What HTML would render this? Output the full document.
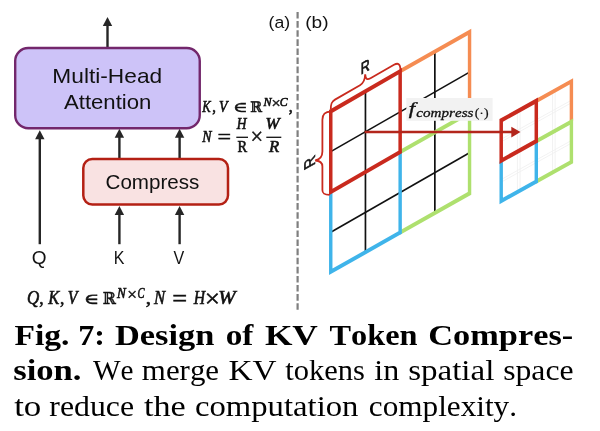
<!DOCTYPE html>
<html lang="en"><head><meta charset="utf-8"><title>Fig. 7: Design of KV Token Compression</title>
<style>
html,body{margin:0;padding:0;background:#fff;}
body{width:600px;height:431px;overflow:hidden;}
svg{display:block;will-change:transform;}
text{font-kerning:none;font-variant-ligatures:none;white-space:pre;}
.ls{font-family:"Liberation Sans",sans-serif;}
.lf{font-family:"Liberation Serif",serif;}
.df{font-family:"DejaVu Serif","Liberation Serif",serif;}
.ds{font-family:"DejaVu Sans","Liberation Sans",sans-serif;}
.b{font-weight:bold;}
.i{font-style:italic;}
</style></head><body>
<svg width="600" height="431" viewBox="0 0 600 431">
<rect x="0" y="0" width="600" height="431" fill="#ffffff"/>
<line x1="107.5" y1="23" x2="107.5" y2="48" stroke="#262626" stroke-width="2.4"/>
<polygon points="107.5,17 102.8,26 112.2,26" fill="#262626"/>
<line x1="39.8" y1="136.3" x2="39.8" y2="244.2" stroke="#262626" stroke-width="2.4"/>
<polygon points="39.8,130.3 35.1,139.3 44.5,139.3" fill="#262626"/>
<line x1="119.4" y1="134.8" x2="119.4" y2="159" stroke="#262626" stroke-width="2.4"/>
<polygon points="119.4,128.8 114.7,137.8 124.1,137.8" fill="#262626"/>
<line x1="179.6" y1="134.8" x2="179.6" y2="159" stroke="#262626" stroke-width="2.4"/>
<polygon points="179.6,128.8 174.9,137.8 184.3,137.8" fill="#262626"/>
<line x1="119.4" y1="212" x2="119.4" y2="244.2" stroke="#262626" stroke-width="2.4"/>
<polygon points="119.4,206 114.7,215 124.1,215" fill="#262626"/>
<line x1="179.6" y1="212" x2="179.6" y2="244.2" stroke="#262626" stroke-width="2.4"/>
<polygon points="179.6,206 174.9,215 184.3,215" fill="#262626"/>
<rect x="15.2" y="48.05" width="184.55" height="80.2" rx="13" ry="13" fill="#cdc3f8" stroke="#73276c" stroke-width="2.4"/>
<text class="ls" font-size="20.8" fill="#111" transform="translate(52.33,83) scale(1.0931,1)">Multi-Head</text>
<text class="ls" font-size="20.6" fill="#111" transform="translate(63.96,108.7) scale(1.0759,1)">Attention</text>
<rect x="83.3" y="158.9" width="144.7" height="45.7" rx="9" ry="9" fill="#f9e2e2" stroke="#b42014" stroke-width="2.5"/>
<text class="ls" font-size="20.8" fill="#111" transform="translate(105.55,189.4) scale(0.9906,1)">Compress</text>
<text class="ls" font-size="17.5" fill="#111" transform="translate(31.8,264.2) scale(1.0882,1)">Q</text>
<text class="ls" font-size="17.5" fill="#111" transform="translate(113.68,264.2) scale(0.9163,1)">K</text>
<text class="ls" font-size="17.5" fill="#111" transform="translate(173.53,264.2) scale(0.9203,1)">V</text>
<text class="ls" font-size="16.5" fill="#111" transform="translate(268.5,28) scale(1.0707,1)">(a)</text>
<text class="ls" font-size="16.5" fill="#111" transform="translate(305.21,28) scale(1.1590,1)">(b)</text>
<text class="lf i" font-size="16" fill="#111" stroke="#111" stroke-width="0.6" transform="translate(202.35,111.7) scale(0.7881,1)">K</text>
<text class="lf" font-size="16" fill="#111" stroke="#111" stroke-width="0.6" transform="translate(212.14,111.7) scale(0.9233,1)">,</text>
<text class="lf i" font-size="16" fill="#111" stroke="#111" stroke-width="0.6" transform="translate(218.97,111.7) scale(0.8686,1)">V</text>
<text class="df" font-size="14.2" fill="#111" stroke="#111" stroke-width="0.48" transform="translate(232.89,111.7) scale(1.4000,1)">∈</text>
<text class="df" font-size="14.4" fill="#111" stroke="#111" stroke-width="0.48" transform="translate(250.34,111.7) scale(0.9843,1)">ℝ</text>
<text class="lf i" font-size="11.9" fill="#111" stroke="#111" stroke-width="0.6" transform="translate(263.39,106.1) scale(1.0144,1)">N</text>
<text class="lf" font-size="15.47" fill="#111" stroke="#111" stroke-width="0.48" transform="translate(271.62,108.09) scale(1.0489,1)">×</text>
<text class="lf i" font-size="11.9" fill="#111" stroke="#111" stroke-width="0.6" transform="translate(279.85,106.1) scale(0.9885,1)">C</text>
<text class="lf" font-size="16" fill="#111" stroke="#111" stroke-width="0.6" transform="translate(288.69,111.7) scale(1.0072,1)">,</text>
<text class="lf i" font-size="16" fill="#111" stroke="#111" stroke-width="0.6" transform="translate(202.3,141.7) scale(0.8672,1)">N</text>
<text class="lf" font-size="22" fill="#111" stroke="#111" stroke-width="0.48" transform="translate(217.6,143.65) scale(1.0940,1)">=</text>
<text class="lf i" font-size="16" fill="#111" stroke="#111" stroke-width="0.6" transform="translate(236.85,128.8) scale(0.8437,1)">H</text>
<line x1="236.3" y1="137.3" x2="248" y2="137.3" stroke="#111" stroke-width="1.3"/>
<text class="lf" font-size="16" fill="#111" stroke="#111" stroke-width="0.6" transform="translate(237.58,152.3) scale(0.9031,1)">R</text>
<text class="lf" font-size="22.1" fill="#111" stroke="#111" stroke-width="0.48" transform="translate(250.43,144.35) scale(1.0123,1)">×</text>
<text class="lf i" font-size="16" fill="#111" stroke="#111" stroke-width="0.6" transform="translate(265.58,128.8) scale(1.0605,1)">W</text>
<line x1="266.3" y1="137.3" x2="281.3" y2="137.3" stroke="#111" stroke-width="1.3"/>
<text class="lf i" font-size="16" fill="#111" stroke="#111" stroke-width="0.6" transform="translate(268.89,152.3) scale(1.0423,1)">R</text>
<text class="lf i" font-size="18.4" fill="#111" stroke="#111" stroke-width="0.6" transform="translate(27.06,304) scale(0.9219,1)">Q</text>
<text class="lf" font-size="18.4" fill="#111" stroke="#111" stroke-width="0.6" transform="translate(39.14,304) scale(0.9488,1)">,</text>
<text class="lf i" font-size="18.4" fill="#111" stroke="#111" stroke-width="0.6" transform="translate(48.19,304) scale(0.9037,1)">K</text>
<text class="lf" font-size="18.4" fill="#111" stroke="#111" stroke-width="0.6" transform="translate(60.04,304) scale(0.9488,1)">,</text>
<text class="lf i" font-size="18.4" fill="#111" stroke="#111" stroke-width="0.6" transform="translate(67.77,304) scale(0.8632,1)">V</text>
<text class="df" font-size="15.31" fill="#111" stroke="#111" stroke-width="0.48" transform="translate(83.39,304) scale(1.3598,1)">∈</text>
<text class="df" font-size="16.46" fill="#111" stroke="#111" stroke-width="0.48" transform="translate(102.76,304) scale(0.9612,1)">ℝ</text>
<text class="lf i" font-size="13.7" fill="#111" stroke="#111" stroke-width="0.6" transform="translate(117.1,297.5) scale(0.9622,1)">N</text>
<text class="lf" font-size="16.45" fill="#111" stroke="#111" stroke-width="0.48" transform="translate(127.14,299.62) scale(1.0460,1)">×</text>
<text class="lf i" font-size="13.7" fill="#111" stroke="#111" stroke-width="0.6" transform="translate(137.42,297.5) scale(0.7645,1)">C</text>
<text class="lf" font-size="18.4" fill="#111" stroke="#111" stroke-width="0.6" transform="translate(145.71,304) scale(1.1313,1)">,</text>
<text class="lf i" font-size="18.4" fill="#111" stroke="#111" stroke-width="0.6" transform="translate(154.12,304) scale(0.9049,1)">N</text>
<text class="lf" font-size="25.2" fill="#111" stroke="#111" stroke-width="0.48" transform="translate(172.18,307.02) scale(1.0489,1)">=</text>
<text class="lf i" font-size="18.4" fill="#111" stroke="#111" stroke-width="0.6" transform="translate(193.67,304) scale(0.8524,1)">H</text>
<text class="lf" font-size="24.8" fill="#111" stroke="#111" stroke-width="0.48" transform="translate(204.66,307.4) scale(1.0904,1)">×</text>
<text class="lf i" font-size="18.4" fill="#111" stroke="#111" stroke-width="0.6" transform="translate(218.33,304) scale(1.1285,1)">W</text>
<line x1="297.6" y1="12" x2="297.6" y2="310" stroke="#7f7f7f" stroke-width="2.2" stroke-dasharray="6.6 2.5"/>
<line x1="365.45" y1="90.89" x2="365.45" y2="252.21" stroke="#111" stroke-width="1.7"/>
<line x1="434.85" y1="51.66" x2="434.85" y2="212.98" stroke="#111" stroke-width="1.7"/>
<line x1="330.75" y1="151.63" x2="469.55" y2="72.08" stroke="#111" stroke-width="1.6"/>
<line x1="330.75" y1="232.29" x2="469.55" y2="152.74" stroke="#111" stroke-width="1.6"/>
<g transform="matrix(0.76,-0.4296,0,1,330.75,110.5)" fill="none" stroke-linejoin="miter" stroke-miterlimit="10">
<polyline points="91.32,0 182.63,0 182.63,80.66" stroke="#f58c52" stroke-width="4.5"/>
<polyline points="91.32,80.66 182.63,80.66 182.63,161.32 91.32,161.32" stroke="#aee06e" stroke-width="4.5"/>
<polyline points="91.32,80.66 91.32,161.32 0,161.32 0,80.66" stroke="#3fb4ea" stroke-width="4.5"/>
</g>
<g transform="matrix(0.76,-0.4394,0,1,330.75,111.4)" fill="none" stroke-linejoin="miter" stroke-miterlimit="10">
<polygon points="0,0 91.32,0 91.32,80.66 0,80.66" stroke="#c92a1e" stroke-width="4.6"/>
</g>
<path d="M330.8 109.5 C330.7 104 331.5 101.6 335 99.6 L360 85.2 C363.5 83.2 365 80 365.2 74.3 C365.6 79 367 80.2 370.5 78.2 L394 64.8 C398 62.6 400.3 63.6 400.5 70" fill="none" stroke="#c92a1e" stroke-width="1.8"/>
<path d="M331 111.5 C325 111.8 322.4 113.8 322.4 119.8 L322.4 151.5 C322.4 157 320 159.5 315.2 160.5 C320.5 160.8 322.4 162.5 322.4 166.5 L322.4 190 C322.4 193.6 324 194.8 329.5 194.8" fill="none" stroke="#c92a1e" stroke-width="1.8"/>
<text class="ls" font-size="16.4" fill="#111" stroke="#111" stroke-width="0.7" transform="translate(361.9,74.2) skewY(-29.4751) scale(0.76,1) translate(-1.35,0)">R</text>
<text class="ls" font-size="17.9" fill="#111" stroke="#111" stroke-width="0.7" transform="translate(315.2,163.7) skewY(-29.4751) rotate(-90) scale(0.83,0.87) translate(-1.47,0)">R</text>
<line x1="517.45" y1="110.64" x2="517.45" y2="191.24" stroke="#f0f0f0" stroke-width="0.9"/>
<line x1="520.05" y1="110.64" x2="520.05" y2="191.24" stroke="#f0f0f0" stroke-width="0.9"/>
<line x1="552.55" y1="91.13" x2="552.55" y2="171.73" stroke="#f0f0f0" stroke-width="0.9"/>
<line x1="555.15" y1="91.13" x2="555.15" y2="171.73" stroke="#f0f0f0" stroke-width="0.9"/>
<line x1="501.2" y1="139.25" x2="571.4" y2="100.22" stroke="#f0f0f0" stroke-width="0.9"/>
<line x1="501.2" y1="141.85" x2="571.4" y2="102.82" stroke="#f0f0f0" stroke-width="0.9"/>
<line x1="501.2" y1="179.55" x2="571.4" y2="140.52" stroke="#f0f0f0" stroke-width="0.9"/>
<line x1="501.2" y1="182.15" x2="571.4" y2="143.12" stroke="#f0f0f0" stroke-width="0.9"/>
<g transform="matrix(0.76,-0.4226,0,1,501.2,120.4)" fill="none" stroke-linejoin="miter" stroke-miterlimit="10">
<polyline points="46.18,0 92.37,0 92.37,40.3" stroke="#f58c52" stroke-width="4.5"/>
<polyline points="46.18,40.3 92.37,40.3 92.37,80.6 46.18,80.6" stroke="#aee06e" stroke-width="4.5"/>
<polyline points="46.18,40.3 46.18,80.6 0,80.6 0,40.3" stroke="#3fb4ea" stroke-width="4.5"/>
<polygon points="0,0 46.18,0 46.18,40.3 0,40.3" stroke="#c92a1e" stroke-width="4.6"/>
</g>
<rect x="406.3" y="98" width="86.3" height="22.8" fill="#f2f2f2"/>
<text class="lf i" font-size="17.23" fill="#111" stroke="#111" stroke-width="0.35" transform="translate(408.74,113.93) scale(1.3224,1)">f</text>
<text class="lf i" font-size="13.2" fill="#111" stroke="#111" stroke-width="0.3" transform="translate(416.33,117) scale(1.1456,1)">compress</text>
<text class="lf" font-size="13.5" fill="#111" stroke="#111" stroke-width="0.2" transform="translate(474.69,117) scale(1.0325,1)">(·)</text>
<line x1="364.6" y1="132.1" x2="512" y2="132.1" stroke="#b3261c" stroke-width="2.5"/>
<polygon points="520.5,132.1 511.3,126.8 511.3,137.4" fill="#b3261c"/>
<text class="lf b" font-size="28.5" fill="#000" transform="translate(14.43,345) scale(1.1788,1)">Fig.</text>
<text class="lf b" font-size="28.5" fill="#000" transform="translate(78.17,345) scale(1.1244,1)">7:</text>
<text class="lf b" font-size="28.5" fill="#000" transform="translate(114.9,345) scale(1.2069,1)">Design</text>
<text class="lf b" font-size="28.5" fill="#000" transform="translate(225.73,345) scale(1.1664,1)">of</text>
<text class="lf b" font-size="28.5" fill="#000" transform="translate(264.9,345) scale(1.2398,1)">KV</text>
<text class="lf b" font-size="28.5" fill="#000" transform="translate(329.5,345) scale(1.1338,1)">Token</text>
<text class="lf b" font-size="28.5" fill="#000" transform="translate(428.32,345) scale(1.2047,1)">Compres-</text>
<text class="lf b" font-size="28.5" fill="#000" transform="translate(13.2,380.3) scale(1.2149,1)">sion.</text>
<text class="lf" font-size="28.5" fill="#000" transform="translate(92.97,380.3) scale(1.0251,1)">We</text>
<text class="lf" font-size="28.5" fill="#000" transform="translate(141.85,380.3) scale(1.0844,1)">merge</text>
<text class="lf" font-size="28.5" fill="#000" transform="translate(228.54,380.3) scale(1.1681,1)">KV</text>
<text class="lf" font-size="28.5" fill="#000" transform="translate(285.2,380.3) scale(1.0704,1)">tokens</text>
<text class="lf" font-size="28.5" fill="#000" transform="translate(374.33,380.3) scale(1.1235,1)">in</text>
<text class="lf" font-size="28.5" fill="#000" transform="translate(408.14,380.3) scale(1.1596,1)">spatial</text>
<text class="lf" font-size="28.5" fill="#000" transform="translate(503.2,380.3) scale(1.1123,1)">space</text>
<text class="lf" font-size="28.5" fill="#000" transform="translate(14.16,415.5) scale(1.2257,1)">to</text>
<text class="lf" font-size="28.5" fill="#000" transform="translate(49.36,415.5) scale(1.1159,1)">reduce</text>
<text class="lf" font-size="28.5" fill="#000" transform="translate(143.92,415.5) scale(1.1996,1)">the</text>
<text class="lf" font-size="28.5" fill="#000" transform="translate(195,415.5) scale(1.1475,1)">computation</text>
<text class="lf" font-size="28.5" fill="#000" transform="translate(368.81,415.5) scale(1.0953,1)">complexity.</text>
</svg>
</body></html>
